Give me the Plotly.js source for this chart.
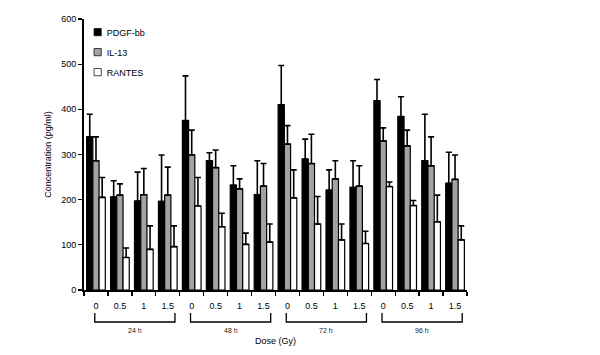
<!DOCTYPE html>
<html>
<head>
<meta charset="utf-8">
<script src="https://cdn.plot.ly/plotly-3.0.1.min.js"></script>
<style>html,body{margin:0;padding:0;background:#fff;}#chart{width:600px;height:355px;}</style>
</head>
<body>
<div id="chart"></div>
<script>
// Categories: 4 time points x 4 doses
var timeLabels = ["24 h", "48 h", "72 h", "96 h"];
var doseLabels = ["0", "0.5", "1", "1.5"];
var seriesNames = ["PDGF-bb", "IL-13", "RANTES"];

// Mean values (pg/ml), in order 24h(0,0.5,1,1.5), 48h(...), 72h(...), 96h(...)
var pdgfMean = [339, 206, 197, 196, 375, 286, 232, 211, 410, 290, 221, 227, 419, 384, 286, 236];
var il13Mean = [286, 210, 211, 210, 299, 271, 224, 230, 323, 280, 246, 230, 330, 319, 275, 245];
var rantesMean = [205, 72, 90, 96, 186, 140, 101, 106, 204, 146, 111, 103, 229, 187, 151, 111];

// Upper error bar tops (pg/ml)
var pdgfTop = [389, 242, 261, 299, 474, 304, 275, 286, 497, 334, 266, 286, 466, 428, 389, 305];
var il13Top = [339, 235, 269, 272, 354, 310, 246, 280, 364, 345, 286, 275, 359, 354, 339, 299];
var rantesTop = [249, 93, 142, 142, 249, 170, 126, 146, 266, 207, 146, 130, 239, 198, 210, 142];

var xs = [], centerLabels = [], boundaries = [];
for (var t = 0; t < timeLabels.length; t++) {
  for (var d = 0; d < doseLabels.length; d++) {
    xs.push(t * doseLabels.length + d);
    centerLabels.push(doseLabels[d]);
  }
}
for (var i = 0; i <= xs.length; i++) boundaries.push(i - 0.5);

function diff(a, b) { return a.map(function (v, i) { return v - b[i]; }); }

var colors = ["#000000", "#a3a3a3", "#ffffff"];
var means = [pdgfMean, il13Mean, rantesMean];
var tops = [pdgfTop, il13Top, rantesTop];

var FONT = "Liberation Sans, Arial, sans-serif";

var traces = seriesNames.map(function (name, k) {
  return {
    type: "bar",
    name: name,
    legendgroup: name,
    x: xs,
    y: means[k],
    marker: { color: colors[k], line: { color: "#000", width: 1.2 } },
    error_y: { type: "data", symmetric: false, array: diff(tops[k], means[k]), arrayminus: means[k].map(function () { return 0; }), color: "#000", thickness: 1.6, width: 3 }
  };
});

// invisible trace to carry the dose labels on xaxis2
traces.push({ type: "scatter", x: xs, y: xs.map(function () { return null; }), xaxis: "x2", yaxis: "y", showlegend: false, hoverinfo: "skip" });

var shapes = [], annotations = [];
var yTopB = -0.085, yBotB = -0.118;
for (var t = 0; t < timeLabels.length; t++) {
  var x0 = t * 4 - 0.05, x1 = t * 4 + 3.3;
  shapes.push({ type: "path", xref: "x", yref: "paper",
    path: "M" + x0 + "," + yTopB + " L" + x0 + "," + yBotB + " L" + x1 + "," + yBotB + " L" + x1 + "," + yTopB,
    line: { color: "#000", width: 1.3 } });
  annotations.push({ xref: "x", yref: "paper", x: (x0 + x1) / 2, y: -0.151, text: timeLabels[t], showarrow: false,
    font: { family: FONT, size: 7, color: "#222" }, yanchor: "middle" });
}

var layout = {
  width: 600, height: 355,
  margin: { l: 84, r: 133, t: 19, b: 65 },
  paper_bgcolor: "#fff", plot_bgcolor: "#fff",
  barmode: "group", bargap: 0.22, bargroupgap: 0,
  showlegend: true,
  legend: { x: 0.02, y: 1.005, xanchor: "left", yanchor: "top", bgcolor: "rgba(0,0,0,0)",
    font: { family: FONT, size: 9, color: "#000" },
    traceorder: "grouped", tracegroupgap: 1, itemwidth: 30 },
  font: { family: FONT, color: "#000" },
  xaxis: { range: [-0.5, 15.5], tickmode: "array", tickvals: boundaries, showticklabels: false,
    ticks: "outside", ticklen: 4, tickwidth: 1.3, tickcolor: "#000",
    showline: true, linecolor: "#000", linewidth: 2, showgrid: false, zeroline: false,
    title: { text: "Dose (Gy)", standoff: 43, font: { family: FONT, size: 9, color: "#000" } } },
  xaxis2: { overlaying: "x", anchor: "y", side: "bottom", range: [-0.5, 15.5], tickmode: "array", tickvals: xs, ticktext: centerLabels,
    ticks: "outside", ticklen: 7, tickcolor: "rgba(0,0,0,0)", showline: false, showgrid: false, zeroline: false,
    tickfont: { family: FONT, size: 9, color: "#000" } },
  yaxis: { range: [0, 600], tickmode: "array", tickvals: [0, 100, 200, 300, 400, 500, 600],
    ticks: "outside", ticklen: 4, tickwidth: 1.3, tickcolor: "#000", tickfont: { family: FONT, size: 9, color: "#000" },
    showline: true, linecolor: "#000", linewidth: 2, showgrid: false, zeroline: false,
    title: { text: "Concentration (pg/ml)", standoff: 8, font: { family: FONT, size: 9, color: "#000" } } },
  shapes: shapes,
  annotations: annotations
};

Plotly.newPlot("chart", traces, layout, { staticPlot: true, displayModeBar: false }).then(function (gd) {
  // compact legend symbols like the original figure
  var items = gd.querySelectorAll(".legend .traces");
  items.forEach(function (it) {
    it.querySelectorAll(".legendpoints path").forEach(function (p) {
      p.setAttribute("transform", "translate(6,0) scale(0.6)");
    });
    it.querySelectorAll("text.legendtext").forEach(function (tx) {
      tx.setAttribute("x", "15");
    });
  });
});
</script>
</body>
</html>
